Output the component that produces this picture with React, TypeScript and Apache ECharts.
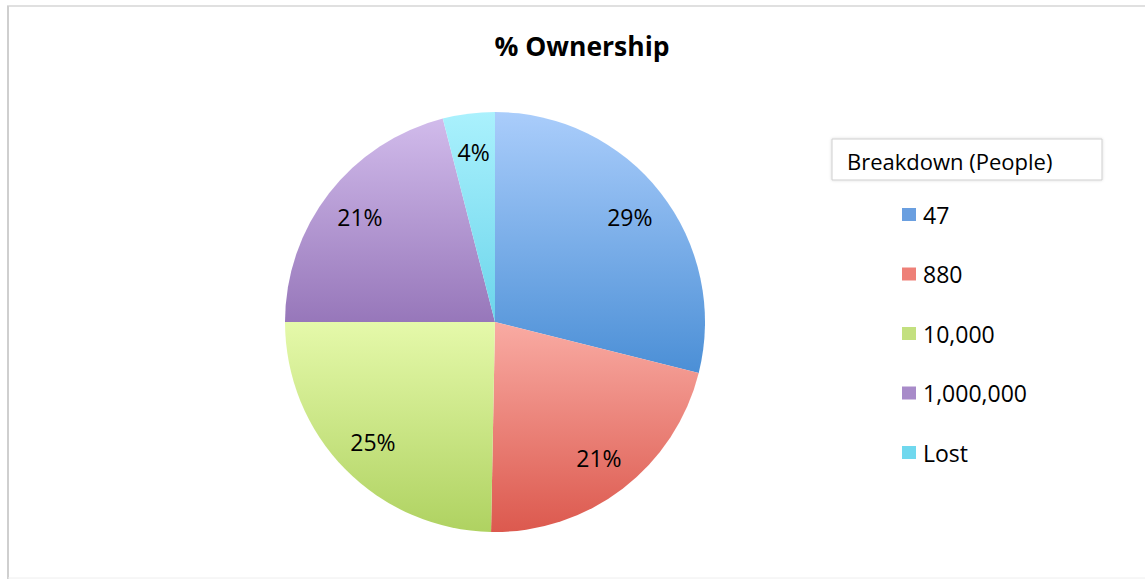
import React, { useEffect, useRef } from 'react';
import * as echarts from 'echarts';

const categories = ['47', '880', '10,000', '1,000,000', 'Lost'];
const shares = [28.9, 21.4, 24.7, 21.0, 4.0];
const topColors = ['#aacdfb', '#f9aba3', '#e5f9aa', '#d1bbeb', '#aaf1fd'];
const bottomColors = ['#4b8fd6', '#dc594e', '#afd261', '#9777ba', '#6cd5eb'];
const legendColors = ['#6a9fe0', '#ee8078', '#c3e07f', '#a88bc9', '#70d8ee'];
const chartTitle = '% Ownership';
const legendTitle = 'Breakdown (People)';

export default function App() {
  const ref = useRef<HTMLDivElement>(null);
  useEffect(() => {
    const chart = echarts.init(ref.current as HTMLDivElement, null, { renderer: 'svg' });
    const font = "'Open Sans', sans-serif";
    const center = [495, 322];
    const R = 210;
    const sliceData = categories.map((name, i) => ({
      name,
      value: shares[i],
      itemStyle: {
        color: new echarts.graphic.LinearGradient(0, 0, 0, 1, [
          { offset: 0, color: topColors[i] },
          { offset: 1, color: bottomColors[i] },
        ]),
      },
    }));
    const labelData = categories.map((name, i) => ({ name, value: shares[i] }));
    chart.setOption({
      animation: false,
      backgroundColor: '#ffffff',
      legend: {
        orient: 'vertical',
        left: 902,
        top: 203,
        padding: 0,
        icon: 'rect',
        itemWidth: 14,
        itemHeight: 13,
        itemGap: 36.5,
        selectedMode: false,
        textStyle: { fontFamily: font, fontSize: 23, lineHeight: 23, color: '#000000', padding: [0, 0, 0, 2] },
        data: categories.map((name, i) => ({ name, itemStyle: { color: legendColors[i] } })),
      },
      graphic: [
        { type: 'line', shape: { x1: 7, y1: 6, x2: 1145, y2: 6 }, style: { stroke: '#d6d6d6', lineWidth: 1.5 }, silent: true },
        { type: 'line', shape: { x1: 8, y1: 6, x2: 8, y2: 579 }, style: { stroke: '#cfcfcf', lineWidth: 2 }, silent: true },
        { type: 'line', shape: { x1: 8, y1: 578, x2: 1145, y2: 578 }, style: { stroke: '#eeeeee', lineWidth: 1 }, silent: true },
        {
          type: 'text',
          x: 582,
          y: 46,
          style: {
            text: chartTitle,
            fontFamily: font,
            fontSize: 26.5,
            fontWeight: 'bold',
            fill: '#000000',
            textAlign: 'center',
            textVerticalAlign: 'middle',
          },
          silent: true,
        },
        {
          type: 'rect',
          shape: { x: 832, y: 139, width: 270, height: 41 },
          style: { fill: '#ffffff', stroke: '#cfcfcf', lineWidth: 1, shadowBlur: 3, shadowColor: 'rgba(0,0,0,0.15)' },
          silent: true,
        },
        {
          type: 'text',
          x: 847,
          y: 161,
          style: {
            text: legendTitle,
            fontFamily: font,
            fontSize: 22,
            fill: '#000000',
            textVerticalAlign: 'middle',
          },
          silent: true,
        },
      ],
      series: [
        {
          type: 'pie',
          center,
          radius: [0, R],
          startAngle: 90,
          clockwise: true,
          silent: true,
          label: { show: false },
          labelLine: { show: false },
          emphasis: { disabled: true },
          itemStyle: { borderWidth: 0 },
          data: sliceData,
        },
        {
          type: 'pie',
          center,
          radius: [R * 0.6, R],
          startAngle: 90,
          clockwise: true,
          silent: true,
          legendHoverLink: false,
          emphasis: { disabled: true },
          itemStyle: { color: 'rgba(0,0,0,0)', borderWidth: 0 },
          label: {
            show: true,
            position: 'inside',
            fontFamily: font,
            fontSize: 23,
            color: '#000000',
            formatter: (p: any) => Math.round(p.percent) + '%',
          },
          labelLine: { show: false },
          data: labelData,
        },
      ],
    });
    return () => chart.dispose();
  }, []);
  return <div ref={ref} style={{ position: 'fixed', left: 0, top: 0, width: 1145, height: 579 }} />;
}
